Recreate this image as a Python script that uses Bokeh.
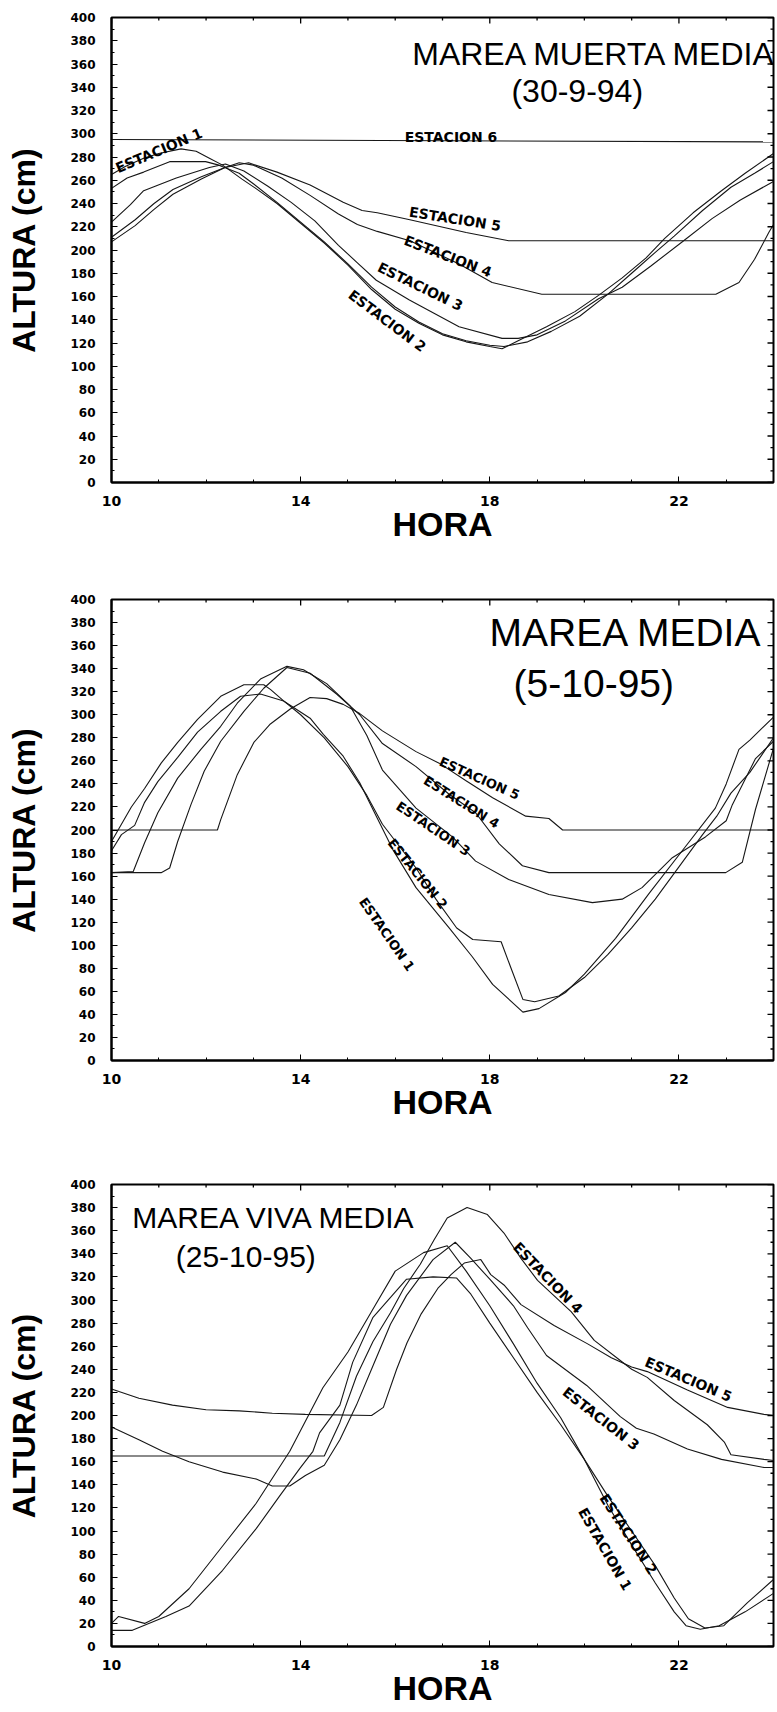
import math
from bokeh.plotting import figure
from bokeh.layouts import column
from bokeh.models import FixedTicker, SingleIntervalTicker, Range1d, Label
from bokeh.embed import file_html
from bokeh.resources import INLINE

# ---------------- data ----------------
HOUR_TICKS = [10, 14, 18, 22]
HOUR_MINOR = [11, 12, 13, 15, 16, 17, 19, 20, 21, 23]
CM_TICKS = list(range(0, 401, 20))
CM_MINOR = list(range(10, 400, 20))

# Panel 1 : MAREA MUERTA MEDIA (30-9-94)
P1_S1_X = [10, 10.3, 10.68, 11.0, 11.47, 11.79, 12.07, 12.35, 12.76, 13.05, 13.5, 14.0, 14.5, 15.0, 15.5, 16.0, 16.5, 17.0, 17.5, 18.0, 18.26, 18.6, 19.2, 19.8, 20.3, 20.8, 21.3, 21.7, 22.3, 22.9, 23.4, 24.0]
P1_S1_Y = [265, 272, 279, 283, 287, 285, 279, 273, 261, 253, 240, 223, 206, 187, 166, 149, 137, 127, 121, 117, 115, 122, 134, 147, 161, 176, 193, 210, 232, 251, 266, 283]
P1_S2_X = [10, 10.33, 10.68, 11.23, 11.99, 12.27, 12.7, 13.0, 13.5, 14.0, 14.5, 15.0, 15.5, 16.0, 16.5, 17.0, 17.5, 18.0, 18.3, 18.8, 19.3, 19.9, 20.5, 21.0, 21.5, 21.9, 22.5, 23.1, 23.6, 24.0]
P1_S2_Y = [253, 262, 267, 276, 276, 273, 266, 257, 241, 224, 207, 188, 168, 151, 138, 128, 122, 118, 117, 121, 130, 143, 162, 180, 198, 212, 234, 254, 266, 276]
P1_S3_X = [10, 10.4, 10.68, 11.37, 12.07, 12.41, 12.8, 13.3, 13.8, 14.3, 14.8, 15.2, 15.6, 16.3, 17.35, 18.26, 18.6, 19.0, 19.6, 20.3, 20.8, 21.4, 22.1, 22.7, 23.3, 24.0]
P1_S3_Y = [224, 239, 251, 262, 271, 274, 268, 255, 241, 225, 204, 189, 174, 157, 134, 124, 124, 127, 139, 158, 168, 186, 208, 227, 243, 259]
P1_S4_X = [10, 10.5, 10.9, 11.3, 11.9, 12.4, 12.7, 13.0, 13.6, 14.2, 14.8, 15.2, 15.62, 16.31, 17.35, 18.05, 19.1, 22.78, 23.27, 23.6, 23.9, 24.0]
P1_S4_Y = [207, 221, 235, 248, 261, 271, 275, 273, 262, 247, 231, 222, 216, 208, 188, 172, 162, 162, 172, 192, 215, 222]
P1_S5_X = [10, 10.5, 10.9, 11.3, 11.9, 12.4, 12.9, 13.5, 14.2, 14.9, 15.3, 15.62, 16.31, 17.5, 18.4, 24.0]
P1_S5_Y = [211, 226, 240, 252, 263, 271, 275, 267, 256, 241, 234, 232, 226, 215, 208, 208]
P1_S6_X = [10, 24]
P1_S6_Y = [295, 293]

# Panel 2 : MAREA MEDIA (5-10-95)
P2_S1_X = [10, 10.21, 10.49, 10.7, 10.98, 11.4, 11.82, 12.31, 12.73, 13.15, 13.64, 14.2, 14.48, 14.9, 15.25, 15.6, 15.95, 16.44, 17.14, 17.63, 18.06, 18.7, 19.04, 19.6, 20.0, 20.66, 21.37, 22.07, 22.77, 23.0, 23.27, 23.5, 24.0]
P2_S1_Y = [182, 196, 204, 224, 242, 263, 285, 303, 316, 318, 312, 297, 283, 264, 241, 212, 183, 150, 115, 90, 66, 42, 45, 59, 75, 106, 145, 182, 219, 240, 270, 278, 298]
P2_S2_X = [10, 10.42, 10.7, 11.05, 11.4, 11.82, 12.31, 12.8, 13.22, 13.36, 13.64, 14.0, 14.5, 15.0, 15.4, 15.73, 16.44, 16.86, 17.3, 17.64, 18.24, 18.45, 18.7, 18.95, 19.46, 20.0, 20.5, 21.0, 21.5, 22.0, 22.5, 22.8, 23.1, 23.5, 23.8, 24.0]
P2_S2_Y = [190, 220, 236, 258, 276, 296, 316, 326, 326, 322, 312, 300, 280, 255, 230, 205, 167, 140, 115, 105, 103, 80, 53, 51, 56, 72, 92, 115, 140, 168, 196, 212, 232, 250, 268, 280]
P2_S3_X = [10, 10.46, 10.7, 10.98, 11.4, 11.89, 12.31, 12.66, 13.15, 13.71, 14.06, 14.55, 15.04, 15.4, 15.73, 16.44, 17.21, 17.7, 18.4, 19.25, 20.17, 20.8, 21.22, 21.86, 22.56, 23.0, 23.13, 23.62, 24.0]
P2_S3_Y = [163, 164, 189, 215, 245, 270, 290, 310, 331, 342, 339, 327, 308, 282, 252, 219, 194, 173, 157, 144, 137, 140, 150, 176, 194, 208, 222, 262, 277]
P2_S4_X = [10, 11.05, 11.23, 11.4, 11.68, 11.96, 12.31, 12.8, 13.22, 13.71, 14.2, 14.76, 15.25, 15.73, 16.44, 17.14, 17.7, 18.2, 18.69, 19.25, 22.99, 23.34, 23.62, 24.0]
P2_S4_Y = [163, 163, 167, 190, 222, 251, 277, 303, 323, 341, 336, 318, 300, 275, 255, 231, 215, 188, 169, 163, 163, 172, 218, 271]
P2_S5_X = [10, 12.24, 12.31, 12.66, 13.01, 13.36, 13.78, 14.2, 14.55, 14.9, 15.25, 15.73, 16.44, 16.93, 17.49, 18.06, 18.76, 19.25, 19.54, 24.0]
P2_S5_Y = [200, 200, 209, 248, 276, 292, 305, 315, 314, 309, 301, 286, 268, 258, 243, 228, 212, 210, 200, 200]

# Panel 3 : MAREA VIVA MEDIA (25-10-95)
P3_S1_X = [10, 10.15, 10.7, 11.0, 11.64, 12.35, 13.06, 13.77, 14.47, 15.0, 15.5, 16.0, 16.6, 17.1, 17.5, 18.0, 18.5, 19.0, 19.5, 20.0, 20.5, 21.0, 21.5, 21.9, 22.15, 22.45, 22.85, 23.4, 24.0]
P3_S1_Y = [20, 26, 20, 26, 50, 87, 124, 169, 224, 255, 290, 325, 341, 347, 325, 295, 262, 228, 198, 162, 122, 88, 55, 30, 18, 15, 18, 30, 46]
P3_S2_X = [10, 10.44, 11.15, 11.64, 12.35, 13.06, 13.55, 13.98, 14.26, 14.4, 14.83, 15.1, 15.53, 16.24, 16.8, 17.3, 17.6, 18.0, 18.5, 19.0, 19.5, 20.0, 20.5, 21.0, 21.5, 21.9, 22.2, 22.55, 22.95, 23.45, 24.0]
P3_S2_Y = [14, 14, 26, 35, 66, 102, 130, 154, 169, 185, 209, 246, 285, 318, 320, 319, 305, 280, 250, 220, 192, 162, 130, 100, 70, 42, 24, 16, 18, 38, 58]
P3_S3_X = [10, 10.58, 11.08, 11.64, 12.35, 13.06, 13.4, 13.77, 14.1, 14.5, 14.83, 15.18, 15.53, 15.9, 16.24, 16.8, 17.27, 17.6, 18.0, 18.5, 18.8, 19.2, 20.05, 20.76, 21.1, 21.47, 22.18, 22.9, 23.8, 24.0]
P3_S3_Y = [190, 179, 169, 160, 151, 145, 139, 139, 148, 157, 179, 209, 243, 279, 304, 335, 350, 336, 318, 295, 276, 252, 226, 199, 189, 184, 171, 162, 155, 155]
P3_S4_X = [10, 14.5, 14.83, 15.18, 15.53, 15.9, 16.18, 16.53, 16.82, 17.1, 17.52, 17.95, 18.3, 18.66, 19.01, 19.72, 20.21, 20.78, 21.0, 21.33, 21.9, 22.6, 22.96, 23.1, 23.8, 24.0]
P3_S4_Y = [165, 165, 194, 234, 264, 289, 310, 331, 352, 371, 380, 374, 358, 336, 317, 290, 265, 247, 240, 233, 213, 192, 177, 166, 162, 161]
P3_S5_X = [10, 10.58, 11.29, 12.0, 12.7, 13.4, 14.1, 15.5, 15.75, 16.03, 16.25, 16.55, 16.9, 17.18, 17.46, 17.81, 18.02, 18.3, 18.66, 19.36, 20.07, 20.57, 21.0, 21.33, 22.18, 23.03, 23.8, 24.0]
P3_S5_Y = [223, 215, 209, 205, 204, 202, 201, 200, 207, 240, 263, 288, 310, 322, 332, 335, 322, 313, 296, 278, 262, 250, 242, 238, 222, 207, 201, 200]

# Station labels: (text, x, y, angle in degrees)
P1_LABELS = [("ESTACION 1", 10.1, 270, 23), ("ESTACION 6", 16.2, 297, 0),
             ("ESTACION 5", 16.3, 233, -9), ("ESTACION 4", 16.2, 209, -21),
             ("ESTACION 3", 15.65, 186, -26), ("ESTACION 2", 15.05, 163, -37)]
P2_LABELS = [("ESTACION 5", 16.95, 260, -24), ("ESTACION 4", 16.63, 244, -32),
             ("ESTACION 3", 16.05, 222, -34), ("ESTACION 2", 15.9, 191, -51),
             ("ESTACION 1", 15.3, 140, -55)]
P3_LABELS = [("ESTACION 4", 18.55, 348, -46), ("ESTACION 5", 21.3, 247, -23),
             ("ESTACION 3", 19.58, 222, -38), ("ESTACION 2", 20.4, 131, -57),
             ("ESTACION 1", 19.95, 119, -60)]

# Titles: (text, x, y, align, size)
P1_TITLES = [("MAREA MUERTA MEDIA", 16.36, 369, "left", "32px"), ("(30-9-94)", 19.85, 337, "center", "32px")]
P2_TITLES = [("MAREA MEDIA", 23.77, 371, "right", "39px"), ("(5-10-95)", 20.2, 327, "center", "39px")]
P3_TITLES = [("MAREA VIVA MEDIA", 10.44, 371, "left", "30px"), ("(25-10-95)", 12.84, 338, "center", "30px")]

LINE_COLOR = "#161616"
BOLD_FONT = "Liberation Sans"
TICK_FONT = "DejaVu Sans"


def make_panel(series, labels, titles, height, top, bottom, label_size):
    p = figure(width=777, height=height, x_range=Range1d(10, 24), y_range=Range1d(0, 400),
               output_backend="svg", toolbar_location=None,
               min_border_top=top, min_border_bottom=bottom,
               min_border_left=111, min_border_right=4)
    p.grid.visible = False
    p.outline_line_color = "black"
    p.outline_line_width = 2
    p.background_fill_color = "white"
    p.border_fill_color = "white"

    for xs, ys in series:
        p.line(xs, ys, line_color=LINE_COLOR, line_width=1.1)

    xa = p.xaxis[0]
    xa.ticker = FixedTicker(ticks=HOUR_TICKS, minor_ticks=HOUR_MINOR)
    xa.axis_label = "HORA"
    xa.axis_label_text_font = BOLD_FONT
    xa.axis_label_text_font_style = "bold"
    xa.axis_label_text_font_size = "34px"
    xa.axis_label_text_color = "black"
    xa.axis_label_standoff = -4
    xa.major_label_text_font = TICK_FONT
    xa.major_label_text_font_style = "bold"
    xa.major_label_text_font_size = "14px"
    xa.major_label_text_color = "black"
    xa.major_label_standoff = 13
    xa.major_tick_in = 6
    xa.major_tick_out = 0
    xa.minor_tick_in = 3
    xa.minor_tick_out = 0
    xa.axis_line_width = 2

    ya = p.yaxis[0]
    ya.ticker = SingleIntervalTicker(interval=20, num_minor_ticks=2)
    ya.axis_label = "ALTURA (cm)"
    ya.axis_label_text_font = BOLD_FONT
    ya.axis_label_text_font_style = "bold"
    ya.axis_label_text_font_size = "32px"
    ya.axis_label_text_color = "black"
    ya.axis_label_standoff = 25
    ya.major_label_text_font = TICK_FONT
    ya.major_label_text_font_style = "bold"
    ya.major_label_text_font_size = "12px"
    ya.major_label_text_color = "black"
    ya.major_label_standoff = 16
    ya.major_tick_in = 6
    ya.major_tick_out = 0
    ya.minor_tick_in = 3
    ya.minor_tick_out = 0
    ya.axis_line_width = 2

    # inward tick marks along the top and right edges of the frame
    p.ray(x=HOUR_TICKS, y=400, length=6, angle=-math.pi / 2, length_units="screen",
          line_color="black", line_width=1.3)
    p.ray(x=HOUR_MINOR, y=400, length=3, angle=-math.pi / 2, length_units="screen",
          line_color="black", line_width=1.3)
    p.ray(x=24, y=CM_TICKS, length=6, angle=math.pi, length_units="screen",
          line_color="black", line_width=1.3)
    p.ray(x=24, y=CM_MINOR, length=3, angle=math.pi, length_units="screen",
          line_color="black", line_width=1.3)

    for text, x, y, ang in labels:
        p.add_layout(Label(x=x, y=y, text=text, angle=ang, angle_units="deg",
                           text_font=TICK_FONT, text_font_style="bold", text_font_size=label_size,
                           text_color="black", text_align="left", text_baseline="alphabetic"))
    for text, x, y, align, size in titles:
        p.add_layout(Label(x=x, y=y, text=text, text_font=BOLD_FONT, text_font_size=size,
                           text_color="black", text_align=align, text_baseline="alphabetic"))
    return p


p1 = make_panel([(P1_S1_X, P1_S1_Y), (P1_S2_X, P1_S2_Y), (P1_S3_X, P1_S3_Y),
                 (P1_S4_X, P1_S4_Y), (P1_S5_X, P1_S5_Y), (P1_S6_X, P1_S6_Y)],
                P1_LABELS, P1_TITLES, height=553, top=17, bottom=71, label_size="14px")
p2 = make_panel([(P2_S1_X, P2_S1_Y), (P2_S2_X, P2_S2_Y), (P2_S3_X, P2_S3_Y),
                 (P2_S4_X, P2_S4_Y), (P2_S5_X, P2_S5_Y)],
                P2_LABELS, P2_TITLES, height=574, top=46, bottom=67, label_size="13px")
p3 = make_panel([(P3_S1_X, P3_S1_Y), (P3_S2_X, P3_S2_Y), (P3_S3_X, P3_S3_Y),
                 (P3_S4_X, P3_S4_Y), (P3_S5_X, P3_S5_Y)],
                P3_LABELS, P3_TITLES, height=585, top=57, bottom=66, label_size="14px")

layout = column(p1, p2, p3, spacing=0)
open("out.html", "w").write(file_html(layout, INLINE))
